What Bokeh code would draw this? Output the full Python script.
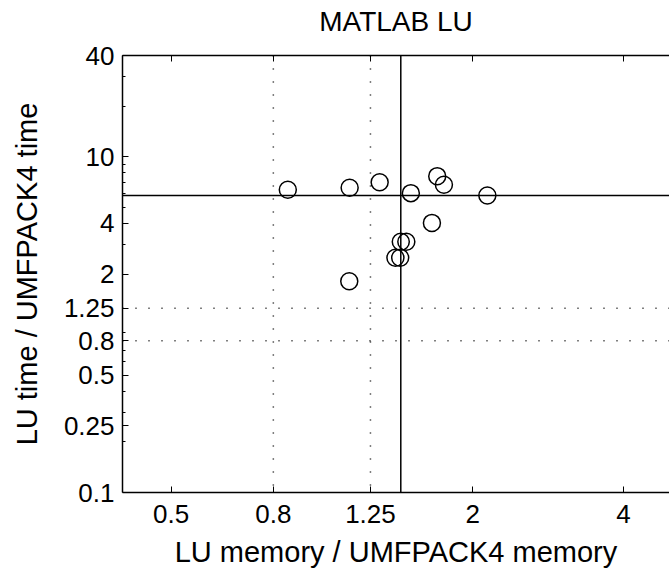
import numpy as np
from bokeh.plotting import figure
from bokeh.models import Span, LogAxis, FixedTicker, CustomJSTickFormatter, ColumnDataSource
from bokeh.embed import file_html
from bokeh.resources import INLINE

# --- data ---
mem_ratio = [0.855, 1.136, 1.304, 1.505, 1.699, 1.752, 2.139, 1.658, 1.437, 1.474, 1.402, 1.433, 1.134]
time_ratio = [6.35, 6.52, 7.04, 6.06, 7.65, 6.80, 5.87, 4.03, 3.11, 3.11, 2.50, 2.50, 1.81]
thresholds = [0.8, 1.25]
x_ticks = [0.5, 0.8, 1.25, 2, 4]
y_ticks = [0.1, 0.25, 0.5, 0.8, 1.25, 2, 4, 10, 40]
y_minor = [0.2, 0.3, 0.4, 0.5, 0.6, 0.7, 0.8, 0.9, 2, 3, 4, 5, 6, 7, 8, 9, 20, 30, 40]

FONT = "Liberation Sans"

p = figure(width=669, height=571, x_axis_type="log", y_axis_type="log",
           x_range=(0.4, 4.94), y_range=(0.1, 40),
           output_backend="svg", toolbar_location=None, title="MATLAB LU",
           min_border_left=122, min_border_right=0, min_border_top=55, min_border_bottom=79)
p.grid.visible = False
p.outline_line_color = None
p.background_fill_color = "white"
p.border_fill_color = "white"

p.title.align = "center"
p.title.text_font = FONT
p.title.text_font_size = "28px"
p.title.text_font_style = "normal"
p.title.text_color = "black"
p.title.standoff = 4

fmt = CustomJSTickFormatter(code="return String(tick);")

def style_axis(ax):
    ax.axis_line_width = 1.5
    ax.axis_line_color = "black"
    ax.major_tick_in = 6
    ax.major_tick_out = 0
    ax.minor_tick_in = 3
    ax.minor_tick_out = 0
    ax.major_tick_line_color = "black"
    ax.minor_tick_line_color = "black"
    ax.major_label_text_font = FONT
    ax.major_label_text_font_size = "26px"
    ax.major_label_text_color = "black"
    ax.axis_label_text_font = FONT
    ax.axis_label_text_font_size = "29px"
    ax.axis_label_text_font_style = "normal"
    ax.axis_label_text_color = "black"

xa = p.xaxis[0]
xa.ticker = FixedTicker(ticks=x_ticks, minor_ticks=[])
xa.formatter = fmt
xa.axis_label = "LU memory / UMFPACK4 memory"
style_axis(xa)
xa.major_label_standoff = 12
xa.axis_label_standoff = 10

ya = p.yaxis[0]
ya.ticker = FixedTicker(ticks=y_ticks, minor_ticks=y_minor)
ya.formatter = fmt
ya.axis_label = "LU time / UMFPACK4 time"
style_axis(ya)
ya.major_label_standoff = 8
ya.axis_label_standoff = 18

# top spine with inward ticks
top = LogAxis(ticker=FixedTicker(ticks=x_ticks, minor_ticks=[]),
              formatter=CustomJSTickFormatter(code="return '';"))
style_axis(top)
top.major_label_standoff = 0
p.add_layout(top, "above")

# invisible spacer axis that reserves room between frame and title
spacer = LogAxis(ticker=FixedTicker(ticks=x_ticks, minor_ticks=[]),
                 formatter=CustomJSTickFormatter(code="return '';"))
spacer.axis_line_color = None
spacer.major_tick_line_color = None
spacer.minor_tick_line_color = None
spacer.major_tick_in = 0
spacer.major_tick_out = 17
spacer.minor_tick_in = 0
spacer.minor_tick_out = 0
spacer.major_label_standoff = 0
p.add_layout(spacer, "above")

src = ColumnDataSource(dict(x=mem_ratio, y=time_ratio))
p.scatter("x", "y", source=src, marker="circle", size=17, fill_color=None,
          line_color="black", line_width=1.5)

for t in thresholds:
    p.add_layout(Span(location=t, dimension="height", line_color="black",
                      line_width=1.5, line_dash="1 12"))
    p.add_layout(Span(location=t, dimension="width", line_color="black",
                      line_width=1.5, line_dash="1 12"))

p.add_layout(Span(location=float(np.median(mem_ratio)), dimension="height",
                  line_color="black", line_width=1.5))
p.add_layout(Span(location=float(np.median(time_ratio)), dimension="width",
                  line_color="black", line_width=1.5))

open("out.html", "w").write(file_html(p, INLINE))
